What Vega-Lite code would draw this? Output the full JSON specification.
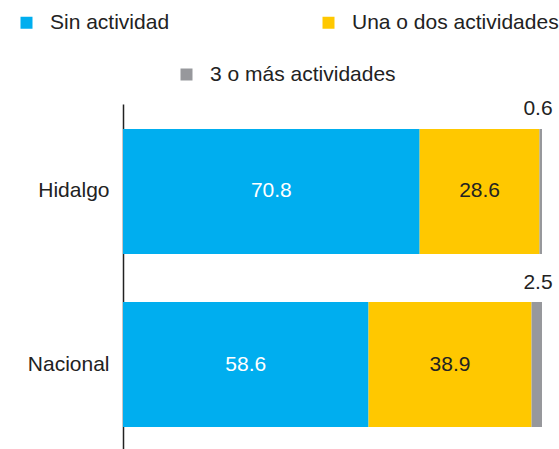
{
  "$schema": "https://vega.github.io/schema/vega-lite/v6.json",
  "width": 419,
  "height": 345,
  "autosize": {"type": "none"},
  "padding": {"left": 123, "top": 104, "right": 17, "bottom": 0},
  "background": "white",
  "config": {
    "view": {"stroke": null},
    "font": "Liberation Sans"
  },
  "data": {
    "values": [
      {"region": "Hidalgo", "cat": "Sin actividad", "ord": 1, "pct": 70.8},
      {"region": "Hidalgo", "cat": "Una o dos actividades", "ord": 2, "pct": 28.6},
      {"region": "Hidalgo", "cat": "3 o más actividades", "ord": 3, "pct": 0.6},
      {"region": "Nacional", "cat": "Sin actividad", "ord": 1, "pct": 58.6},
      {"region": "Nacional", "cat": "Una o dos actividades", "ord": 2, "pct": 38.9},
      {"region": "Nacional", "cat": "3 o más actividades", "ord": 3, "pct": 2.5}
    ]
  },
  "transform": [
    {"stack": "pct", "groupby": ["region"], "sort": [{"field": "ord", "order": "ascending"}], "as": ["x0", "x1"]},
    {"calculate": "(datum.x0 + datum.x1) / 2", "as": "mid"}
  ],
  "encoding": {
    "y": {
      "field": "region",
      "type": "nominal",
      "sort": null,
      "scale": {"paddingInner": 0.2775, "paddingOuter": 0.1358, "align": 0.532},
      "axis": {
        "title": null,
        "ticks": false,
        "domainColor": "#222",
        "domainWidth": 1.5,
        "labelFontSize": 21,
        "labelColor": "#222",
        "labelPadding": 14,
        "labelFont": "Liberation Sans"
      }
    }
  },
  "layer": [
    {
      "transform": [{"filter": "datum.cat != '3 o más actividades'"}],
      "mark": {"type": "bar"},
      "encoding": {
        "x": {"field": "x0", "type": "quantitative", "scale": {"domain": [0, 100], "nice": false}, "axis": null},
        "x2": {"field": "x1"},
        "color": {
          "field": "cat",
          "type": "nominal",
          "sort": null,
          "scale": {"domain": ["Sin actividad", "Una o dos actividades"], "range": ["#00AEEF", "#FFC800"]},
          "legend": {
            "title": null,
            "orient": "none",
            "direction": "horizontal",
            "columns": 2,
            "padding": 0,
            "legendX": -107,
            "legendY": -92,
            "symbolType": "square",
            "symbolSize": 144,
            "symbolStrokeWidth": 0,
            "symbolOpacity": 1,
            "labelFontSize": 21,
            "labelColor": "#222",
            "labelOffset": 13,
            "labelLimit": 400,
            "columnPadding": 148,
            "labelFont": "Liberation Sans"
          }
        }
      }
    },
    {
      "transform": [{"filter": "datum.cat == '3 o más actividades'"}],
      "mark": {"type": "bar"},
      "encoding": {
        "x": {"field": "x0", "type": "quantitative"},
        "x2": {"field": "x1"},
        "fill": {
          "field": "cat",
          "type": "nominal",
          "scale": {"domain": ["3 o más actividades"], "range": ["#97989C"]},
          "legend": {
            "title": null,
            "orient": "none",
            "padding": 0,
            "legendX": 53,
            "legendY": -40,
            "symbolType": "square",
            "symbolSize": 144,
            "symbolStrokeWidth": 0,
            "symbolOpacity": 1,
            "labelFontSize": 21,
            "labelColor": "#222",
            "labelOffset": 13,
            "labelLimit": 400,
            "labelFont": "Liberation Sans"
          }
        }
      }
    },
    {
      "transform": [{"filter": "datum.cat != '3 o más actividades'"}],
      "mark": {"type": "text", "fontSize": 21, "align": "center", "baseline": "middle"},
      "encoding": {
        "x": {"field": "mid", "type": "quantitative"},
        "text": {"field": "pct", "type": "quantitative", "format": ".1f"},
        "color": {"condition": {"test": "datum.cat == 'Sin actividad'", "value": "white"}, "value": "#222"}
      }
    },
    {
      "transform": [{"filter": "datum.cat == '3 o más actividades'"}],
      "mark": {"type": "text", "fontSize": 21, "align": "center", "baseline": "alphabetic", "dy": -76, "dx": -4, "color": "#222"},
      "encoding": {
        "x": {"field": "x1", "type": "quantitative"},
        "text": {"field": "pct", "type": "quantitative", "format": ".1f"}
      }
    }
  ],
  "resolve": {"scale": {"color": "independent"}}
}
